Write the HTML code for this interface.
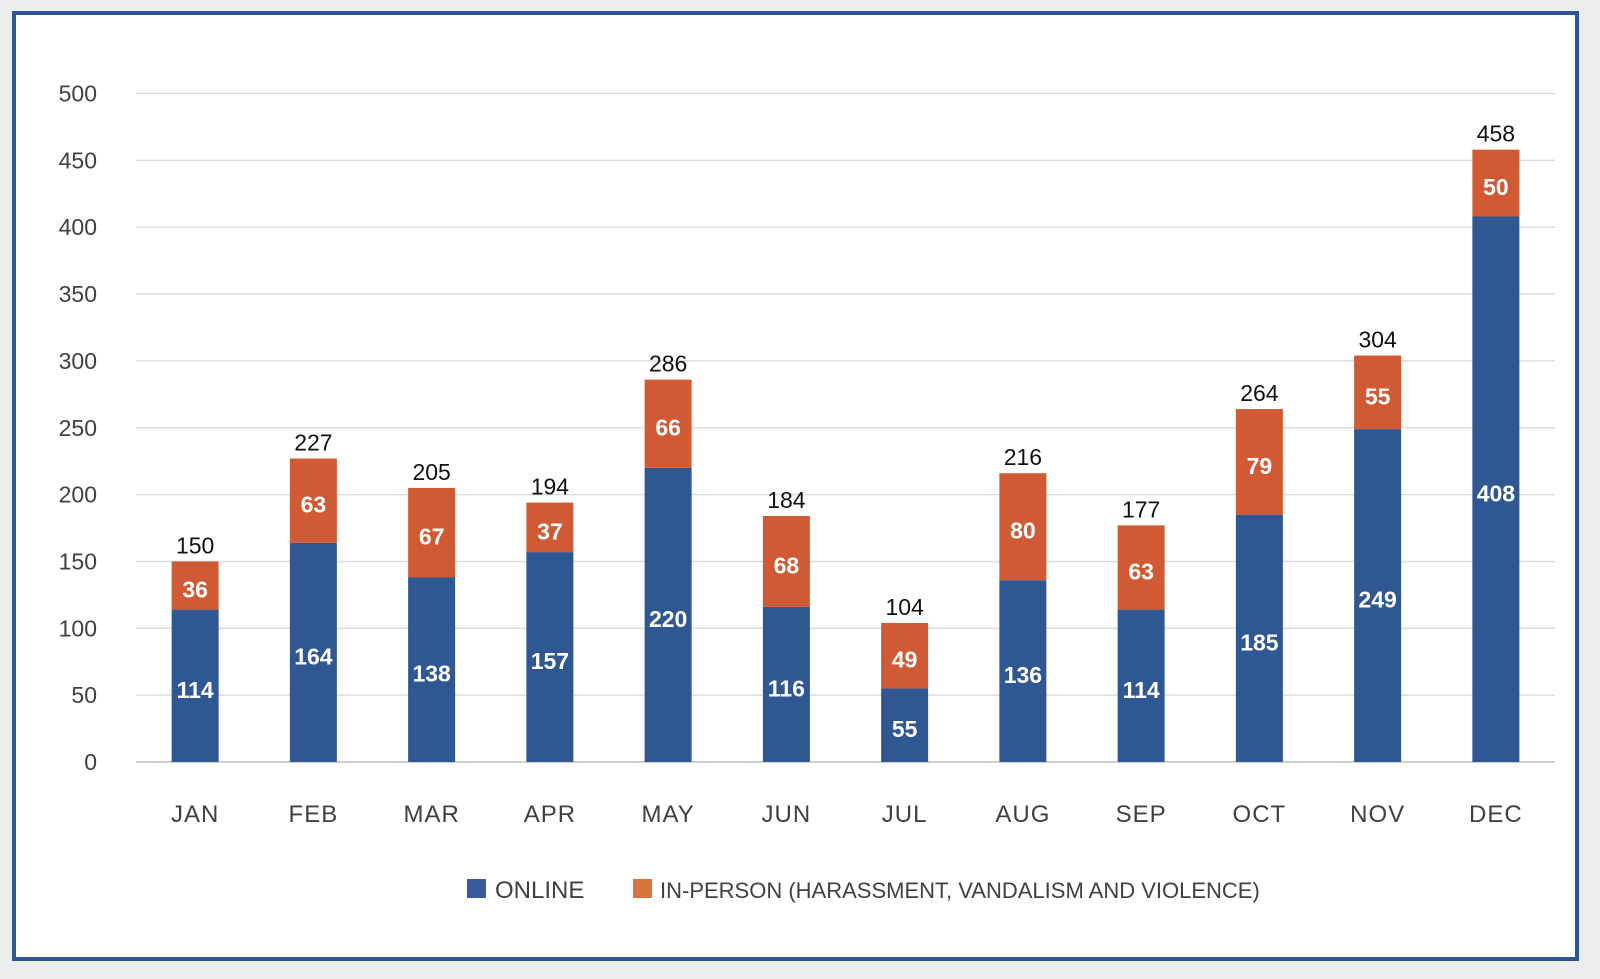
<!DOCTYPE html>
<html><head><meta charset="utf-8"><style>
body{margin:0;width:1600px;height:979px;background:#ecedee;font-family:"Liberation Sans",sans-serif;overflow:hidden}
#frame{position:absolute;left:12px;top:11px;width:1559px;height:942px;border:4px solid #2d5596;background:#fff;box-sizing:content-box}
svg{position:absolute;left:0;top:0}
</style></head><body>
<div id="frame"></div>
<svg id="chart" width="1600" height="979"></svg>
<script>
const months=["JAN","FEB","MAR","APR","MAY","JUN","JUL","AUG","SEP","OCT","NOV","DEC"];
const online=[114,164,138,157,220,116,55,136,114,185,249,408];
const inperson=[36,63,67,37,66,68,49,80,63,79,55,50];
const totals=[150,227,205,194,286,184,104,216,177,264,304,458];
const yTicks=[0,50,100,150,200,250,300,350,400,450,500];
const NS="http://www.w3.org/2000/svg";
const svg=document.getElementById('chart');
const x0=136,x1=1555,y0=762,yTop=93.5,yMax=500;
const bw=(x1-x0)/months.length,barW=47;
const y=v=>y0-(v/yMax)*(y0-yTop);
const cx=i=>x0+bw*(i+0.5);
function mk(t,a){const e=document.createElementNS(NS,t);for(const k in a)e.setAttribute(k,a[k]);svg.appendChild(e);return e;}
yTicks.forEach(v=>{
 const l=mk('line',{x1:x0,x2:x1,y1:y(v),y2:y(v),stroke:v===0?'#d0d0d0':'#dcdcdc','stroke-width':v===0?2:1.5});
 
 
 const t=mk('text',{x:97,y:y(v)+8,'text-anchor':'end','font-size':23,fill:'#404040'});
 t.textContent=v;
 
 
});
months.forEach((m,i)=>{
 const c=cx(i);
 const r1=mk('rect',{x:c-barW/2,y:y(online[i]),width:barW,height:y(0)-y(online[i]),fill:'#2f5792'});
 
 
 const r2=mk('rect',{x:c-barW/2,y:y(online[i]+inperson[i]),width:barW,height:y(online[i])-y(online[i]+inperson[i]),fill:'#d05a34'});
 
 
 const t1=mk('text',{x:c,y:(y(0)+y(online[i]))/2+12,'text-anchor':'middle','font-size':23,'font-weight':600,fill:'#fff'});
 t1.textContent=online[i];
 
 
 const t2=mk('text',{x:c,y:(y(online[i])+y(online[i]+inperson[i]))/2+12,'text-anchor':'middle','font-size':23,'font-weight':600,fill:'#fff'});
 t2.textContent=inperson[i];
 
 
 const t3=mk('text',{x:c,y:y(online[i]+inperson[i])-8,'text-anchor':'middle','font-size':23,fill:'#111'});
 t3.textContent=totals[i];
 
 
 const t4=mk('text',{x:c,y:822,'text-anchor':'middle','font-size':24,fill:'#404040','letter-spacing':1});
 t4.textContent=m;
 
 
});
const s1=mk('rect',{x:467,y:879,width:19,height:19,fill:'#3a5a9c'});


const l1=mk('text',{x:495,y:898,'font-size':24,fill:'#404040'});
l1.textContent='ONLINE';


const s2=mk('rect',{x:633,y:879,width:19,height:19,fill:'#d8743f'});


const l2=mk('text',{x:660,y:898,'font-size':22,fill:'#404040'});
l2.textContent='IN-PERSON (HARASSMENT, VANDALISM AND VIOLENCE)';


</script>
</body></html>
